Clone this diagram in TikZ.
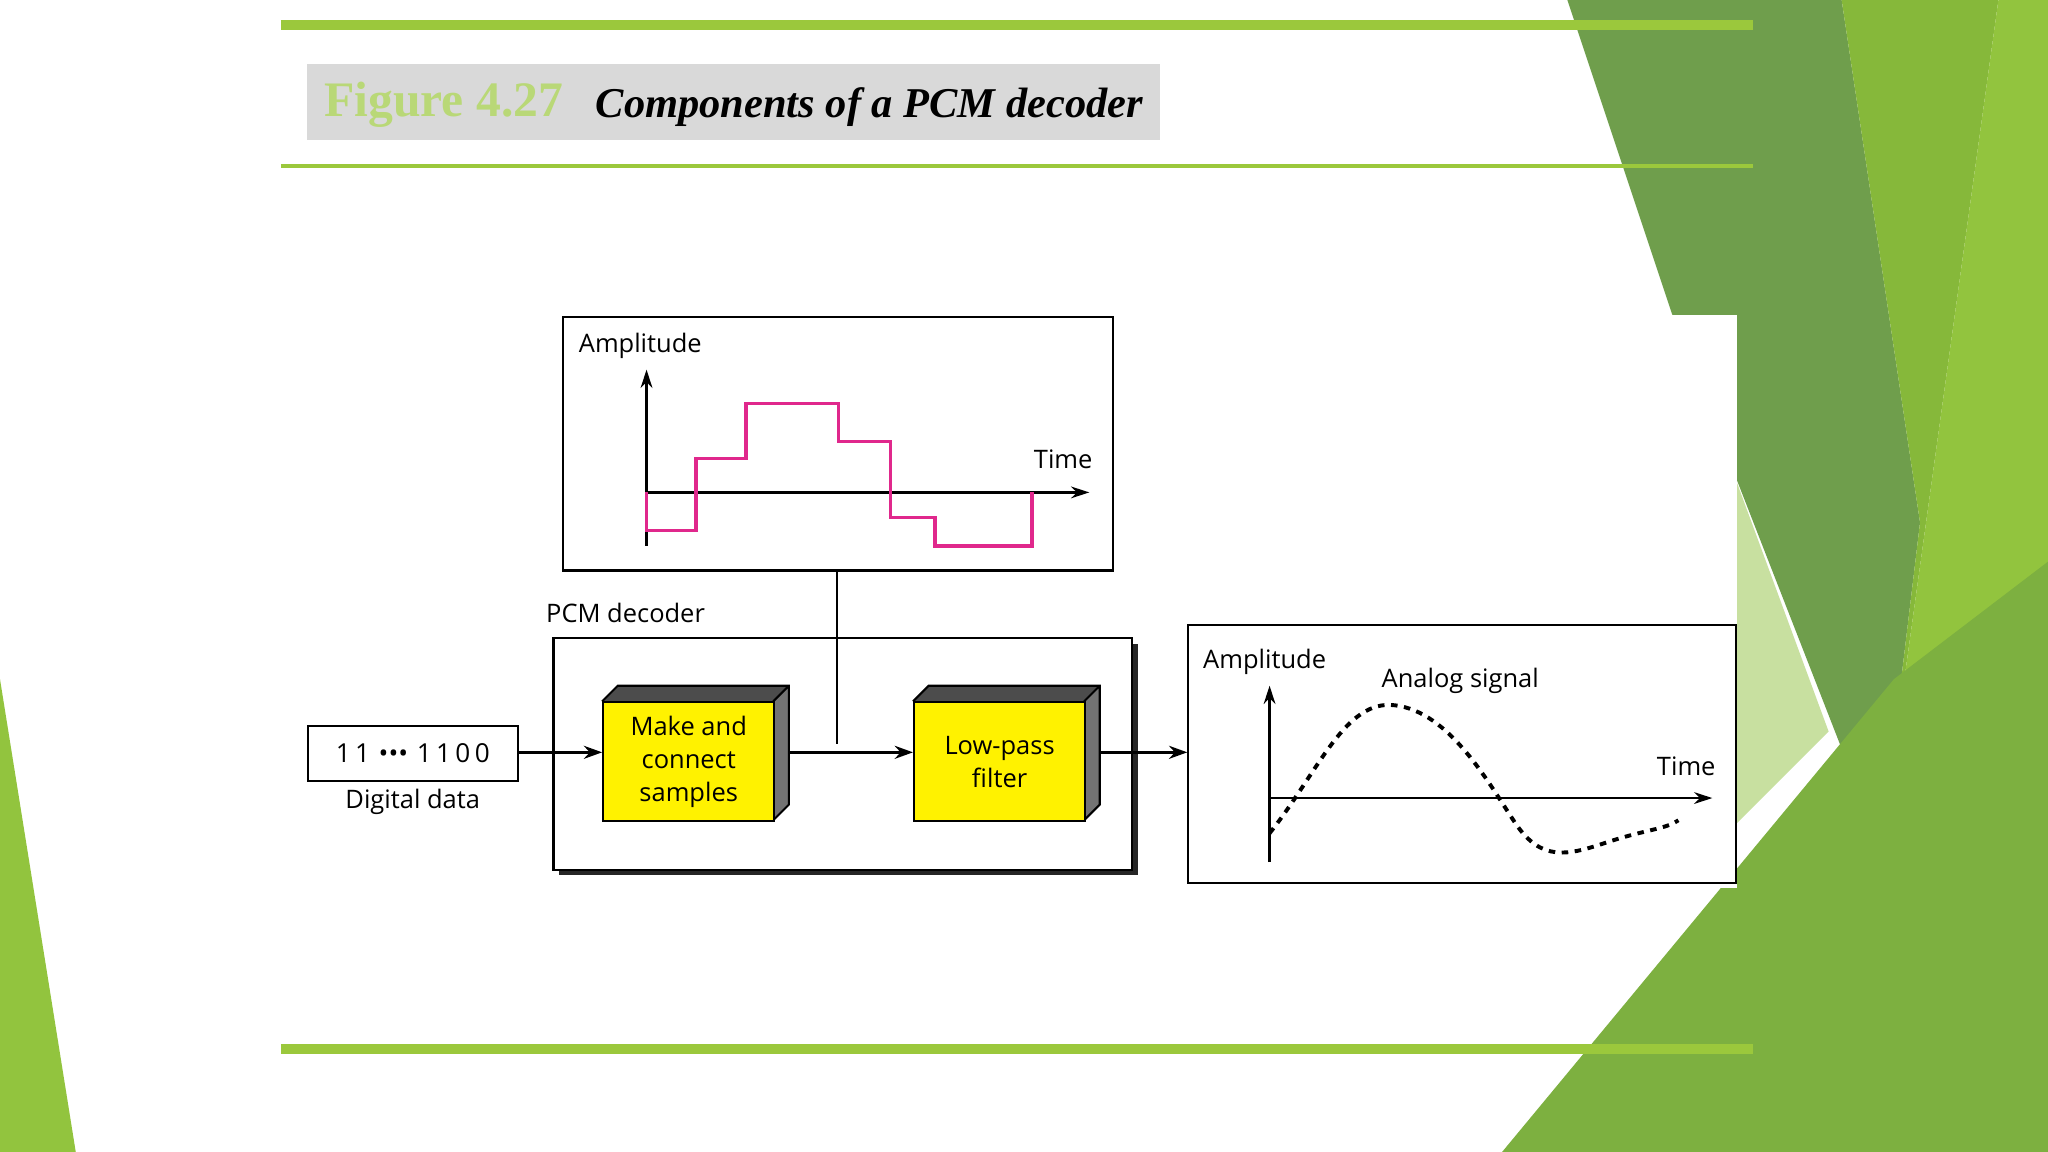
\documentclass[tikz,border=0pt]{standalone}
\usepackage{fontspec}
\usetikzlibrary{arrows.meta}
\setmainfont{Liberation Serif}
\newfontfamily\lab{Open Sans}
\begin{document}
\begin{tikzpicture}[x=1pt,y=-1pt,
  lbl/.style={font=\lab\fontsize{19.5}{22}\selectfont,inner sep=0pt},
  arr/.style={-{Stealth[length=14pt,width=10pt]},line width=2pt},
  ax/.style={-{Stealth[length=14pt,width=9pt]},line width=1.8pt},
  front/.style={draw,line width=1.6pt,fill=yellow,align=center,font=\lab\fontsize{19.5}{25}\selectfont,minimum width=131pt,minimum height=91pt,inner sep=0pt}]
\definecolor{gr}{HTML}{9BC83C}
\definecolor{g1}{HTML}{6F9E4C}
\definecolor{g2}{HTML}{86B83A}
\definecolor{g3}{HTML}{92C43E}
\definecolor{g4}{HTML}{7DB040}
\definecolor{g5}{HTML}{C8E0A0}
\definecolor{mag}{HTML}{E0288C}
\useasboundingbox (0,0) rectangle (1568,882);
\fill[white] (0,0) rectangle (1568,882);
% decoration
\fill[g1] (1200,0)--(1410,0)--(1470,400)--(1440,650)--(1280,240)--cycle;
\fill[g2] (1410,0)--(1530,0)--(1440,650)--(1470,400)--cycle;
\fill[g3] (1530,0)--(1568,0)--(1568,882)--(1420,882)--(1440,650)--cycle;
\fill[g4] (1150,882)--(1450,520)--(1568,430)--(1568,882)--cycle;
\fill[g5] (1330,370)--(1400,560)--(1330,630)--cycle;
\fill[g3] (0,520)--(58,882)--(0,882)--cycle;
\fill[white] (1215,241) rectangle (1330,680);
% green rules
\draw[gr,line width=8pt] (215,19)--(1342,19);
\draw[gr,line width=3pt] (215,127)--(1342,127);
\draw[gr,line width=8pt] (215,803)--(1342,803);
\fill[black!15] (235,49) rectangle (888,107);
\node[anchor=west,inner sep=0pt,text=gr!70!white,font=\bfseries\fontsize{38}{40}\selectfont] (fig) at (248,80) {Figure 4.27};
\node[anchor=west,inner sep=0pt,font=\bfseries\itshape\fontsize{32.5}{34}\selectfont] (ttl) at (456,82) {Components of a PCM decoder};
% top box
\node[draw,line width=1.6pt,minimum width=421pt,minimum height=194pt,anchor=north west,inner sep=0pt] (top) at (430,242) {};
\coordinate (ta0) at (495,418); \coordinate (ta1) at (495,283);
\coordinate (th0) at (495,377); \coordinate (th1) at (834,377);
\draw[ax] (ta0)--(ta1);
\draw[ax] (th0)--(th1);
\node[lbl,anchor=west] (amp1) at (443,265) {Amplitude};
\node[lbl] (time1) at (814,352) {Time};
\draw[mag,line width=2.6pt] (495,377)--(495,406)--(533,406)--(533,351)--(571,351)--(571,309)--(642,309)--(642,338)--(682,338)--(682,396)--(716,396)--(716,418)--(790,418)--(790,377);
% decoder
\node[lbl,anchor=west] (pcm) at (418,469) {PCM decoder};
\fill[black!85] (428,493) rectangle (871,670);
\node[draw,line width=1.6pt,fill=white,minimum width=443pt,minimum height=177pt,anchor=north west,inner sep=0pt] (dec) at (423,488) {};
\coordinate (vdrop) at (641,570);
\draw[line width=1.6pt] (top.south -| vdrop)--(vdrop);
% data
\node[draw,line width=1.6pt,minimum width=161pt,minimum height=42pt,font=\lab\fontsize{20}{22}\selectfont] (data) at (316,577) {1\,1\,\,\textbullet\textbullet\textbullet\,\,1\,1\,0\,0};
\node[lbl] (dl) at (316,614) {Digital data};
% blocks
\foreach \n/\x/\t in {mk/461/{Make and\\connect\\samples},lp/699/{Low-pass\\filter}}{
  \fill[black!55] (\x+131,537)--(\x+143,525)--(\x+143,616)--(\x+131,628)--cycle;
  \fill[black!70] (\x,537)--(\x+12,525)--(\x+143,525)--(\x+131,537)--cycle;
  \draw[line width=1.6pt] (\x,537)--(\x+12,525)--(\x+143,525)--(\x+143,616)--(\x+131,628) (\x+131,537)--(\x+143,525);
  \node[front,anchor=north west] (\n) at (\x,537) {\t};
}
\coordinate (dout) at (397,576);
\coordinate (mkout) at (604,576); \coordinate (lpout) at (842,576);
\draw[arr] (dout)--(dout -| mk.west);
\draw[arr] (mkout)--(mkout -| lp.west);
% output box
\node[draw,line width=1.6pt,minimum width=419pt,minimum height=197pt,anchor=north west,inner sep=0pt] (out) at (909,478) {};
\draw[arr] (lpout)--(lpout -| out.west);
\coordinate (oa0) at (972,660); \coordinate (oa1) at (972,525);
\coordinate (oh0) at (972,611); \coordinate (oh1) at (1311,611);
\draw[ax] (oa0)--(oa1);
\draw[ax] (oh0)--(oh1);
\node[lbl,anchor=west] (amp2) at (921,507) {Amplitude};
\node[lbl] (an) at (1118,521) {Analog signal};
\node[lbl] (time2) at (1291,587) {Time};
\draw[line width=3pt,dash pattern=on 5pt off 5pt] (972,638) .. controls (1010,590) and (1030,535) .. (1068,540) .. controls (1110,545) and (1140,600) .. (1160,630) .. controls (1180,660) and (1200,655) .. (1230,645) .. controls (1260,635) and (1275,635) .. (1285,628);
\end{tikzpicture}
\end{document}
